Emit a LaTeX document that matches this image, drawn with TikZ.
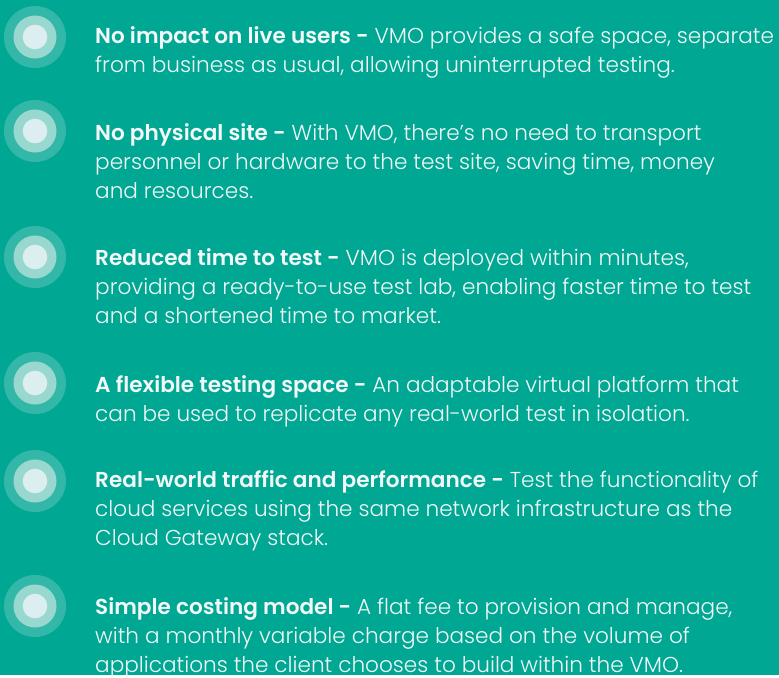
\documentclass[tikz,border=0pt]{standalone}
\usepackage{fontspec}
\setmainfont{Poppins}[UprightFont={* Light},BoldFont={* SemiBold}]
\usepackage{tikz}
\usetikzlibrary{positioning}
\definecolor{bgteal}{HTML}{00A894}
\definecolor{ringout}{HTML}{33B7A8}
\definecolor{ringmid}{HTML}{99D8CF}
\definecolor{ringin}{HTML}{DDEEF0}
\definecolor{txtcol}{HTML}{F2F7F7}
\tikzset{
  item/.style={anchor=base west, inner sep=0pt, align=left, text=txtcol,
    font=\fontsize{21.6bp}{29bp}\selectfont}
}
\begin{document}
\begin{tikzpicture}[x=1bp,y=-1bp]

        \fill[bgteal] (0,0) rectangle (779,675);

        \fill[ringout] (35,37) circle (31bp);
        \fill[ringmid] (35,37) circle (21.5bp);
        \fill[ringin] (35,37) circle (12.3bp) node(b1){};
        \fill[ringout] (35,131) circle (31bp);
        \fill[ringmid] (35,131) circle (21.5bp);
        \fill[ringin] (35,131) circle (12.3bp) node(b2){};
        \fill[ringout] (35,257) circle (31bp);
        \fill[ringmid] (35,257) circle (21.5bp);
        \fill[ringin] (35,257) circle (12.3bp) node(b3){};
        \fill[ringout] (35,383) circle (31bp);
        \fill[ringmid] (35,383) circle (21.5bp);
        \fill[ringin] (35,383) circle (12.3bp) node(b4){};
        \fill[ringout] (35,481) circle (31bp);
        \fill[ringmid] (35,481) circle (21.5bp);
        \fill[ringin] (35,481) circle (12.3bp) node(b5){};
        \fill[ringout] (35,606) circle (31bp);
        \fill[ringmid] (35,606) circle (21.5bp);
        \fill[ringin] (35,606) circle (12.3bp) node(b6){};

        \node[item] (t1) at (95,72) {\textbf{No impact on live users -} VMO provides a safe space, separate\\from business as usual, allowing uninterrupted testing.};
        \node[item] (t2) at (95,198) {\textbf{No physical site -} With VMO, there’s no need to transport\\personnel or hardware to the test site, saving time, money\\and resources.};
        \node[item] (t3) at (95,323) {\textbf{Reduced time to test -} VMO is deployed within minutes,\\providing a ready-to-use test lab, enabling faster time to test\\and a shortened time to market.};
        \node[item] (t4) at (95,421) {\textbf{A flexible testing space -} An adaptable virtual platform that\\can be used to replicate any real-world test in isolation.};
        \node[item] (t5) at (95,545) {\textbf{Real-world traffic and performance -} Test the functionality of\\cloud services using the same network infrastructure as the\\Cloud Gateway stack.};
        \node[item] (t6) at (95,672) {\textbf{Simple costing model -} A flat fee to provision and manage,\\with a monthly variable charge based on the volume of\\applications the client chooses to build within the VMO.};

\end{tikzpicture}
\end{document}
